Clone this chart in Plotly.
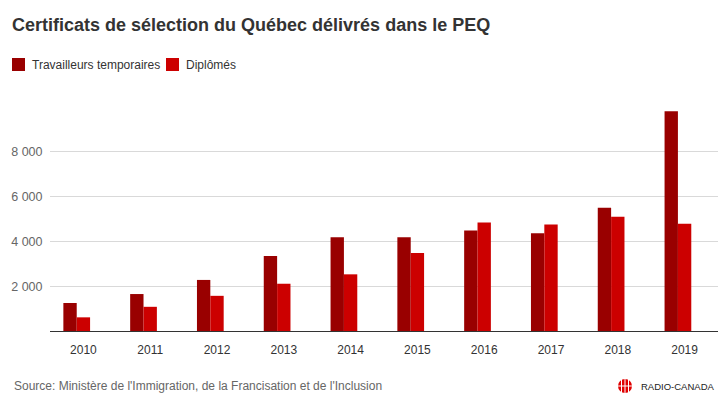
import plotly.graph_objects as go

# ---- data ----
years = ["2010", "2011", "2012", "2013", "2014", "2015", "2016", "2017", "2018", "2019"]
series_names = ["Travailleurs temporaires", "Diplômés"]
travailleurs = [1250, 1650, 2280, 3350, 4180, 4180, 4490, 4360, 5500, 9810]
diplomes = [610, 1080, 1570, 2110, 2530, 3480, 4840, 4760, 5100, 4790]
y_tickvals = [2000, 4000, 6000, 8000]
y_ticktext = ["2 000", "4 000", "6 000", "8 000"]
title_text = "Certificats de sélection du Québec délivrés dans le PEQ"
source_text = "Source: Ministère de l'Immigration, de la Francisation et de l'Inclusion"
logo_text = "RADIO-CANADA"
colors = ["#990000", "#CC0000"]

W, H = 722, 404
ML, MR, MT, MB = 50, 4, 107, 73
PW, PH = W - ML - MR, H - MT - MB

def xp(px):
    return (px - ML) / PW

def yp(py):
    return (H - MB - py) / PH

FONT = "Liberation Sans, Arial, sans-serif"

fig = go.Figure()
fig.add_trace(go.Bar(x=years, y=travailleurs, name=series_names[0],
                     marker=dict(color=colors[0], line=dict(width=0)), showlegend=False))
fig.add_trace(go.Bar(x=years, y=diplomes, name=series_names[1],
                     marker=dict(color=colors[1], line=dict(width=0)), showlegend=False))
# empty third slot (as in the original layout)
fig.add_trace(go.Bar(x=years, y=[None] * len(years), showlegend=False, hoverinfo="skip"))

shapes = []
annotations = []

# custom legend
leg_items = [(12, series_names[0]), (166, series_names[1])]
for (lx, name), c in zip(leg_items, colors):
    shapes.append(dict(type="rect", xref="paper", yref="paper",
                       x0=xp(lx), x1=xp(lx + 13), y0=yp(71), y1=yp(58),
                       fillcolor=c, line=dict(width=0)))
    annotations.append(dict(text=name, xref="paper", yref="paper",
                            x=xp(lx + 18), y=yp(64.5), xanchor="left", yanchor="middle",
                            showarrow=False, font=dict(family=FONT, size=12, color="#333333")))

# source
annotations.append(dict(text=source_text, xref="paper", yref="paper",
                        x=xp(12), y=yp(386), xanchor="left", yanchor="middle",
                        showarrow=False, font=dict(family=FONT, size=12, color="#666666")))
# logo
shapes.append(dict(type="circle", xref="paper", yref="paper",
                   x0=xp(618), x1=xp(632), y0=yp(393), y1=yp(379),
                   fillcolor="#E00000", line=dict(width=0)))
for (ax0, ay0, ax1, ay1) in [(625, 378, 625, 394), (617, 386, 633, 386),
                             (621.5, 378, 621.5, 394), (628.5, 378, 628.5, 394)]:
    shapes.append(dict(type="line", xref="paper", yref="paper",
                       x0=xp(ax0), x1=xp(ax1), y0=yp(ay0), y1=yp(ay1),
                       line=dict(color="white", width=1)))
annotations.append(dict(text=logo_text, xref="paper", yref="paper",
                        x=xp(717), y=yp(386), xanchor="right", yanchor="middle",
                        showarrow=False,
                        font=dict(family=FONT, size=9.5, color="#222222")))

fig.update_layout(
    width=W, height=H,
    margin=dict(l=ML, r=MR, t=MT, b=MB, pad=0),
    paper_bgcolor="white", plot_bgcolor="white",
    barmode="group", bargap=0.4, bargroupgap=0,
    title=dict(text="<b>" + title_text + "</b>", xref="container", yref="container",
               x=12 / W, xanchor="left", y=1 - 25 / H, yanchor="middle",
               font=dict(family=FONT, size=18, color="#333333")),
    font=dict(family=FONT),
    shapes=shapes, annotations=annotations,
    xaxis=dict(showgrid=False, showline=True, linecolor="#333333", linewidth=1,
               ticks="outside", ticklen=8, tickcolor="rgba(0,0,0,0)",
               tickfont=dict(family=FONT, size=12, color="#333333"), fixedrange=True),
    yaxis=dict(range=[0, 10000], tickvals=y_tickvals, ticktext=y_ticktext,
               showgrid=True, gridcolor="#d9d9d9", gridwidth=1, zeroline=False,
               showline=False, ticks="outside", ticklen=4, tickcolor="rgba(0,0,0,0)",
               tickfont=dict(family=FONT, size=12.5, color="#666666"), fixedrange=True),
)

fig.write_html("out.html", config={"displayModeBar": False},
               post_script="document.body.style.margin='0';")
